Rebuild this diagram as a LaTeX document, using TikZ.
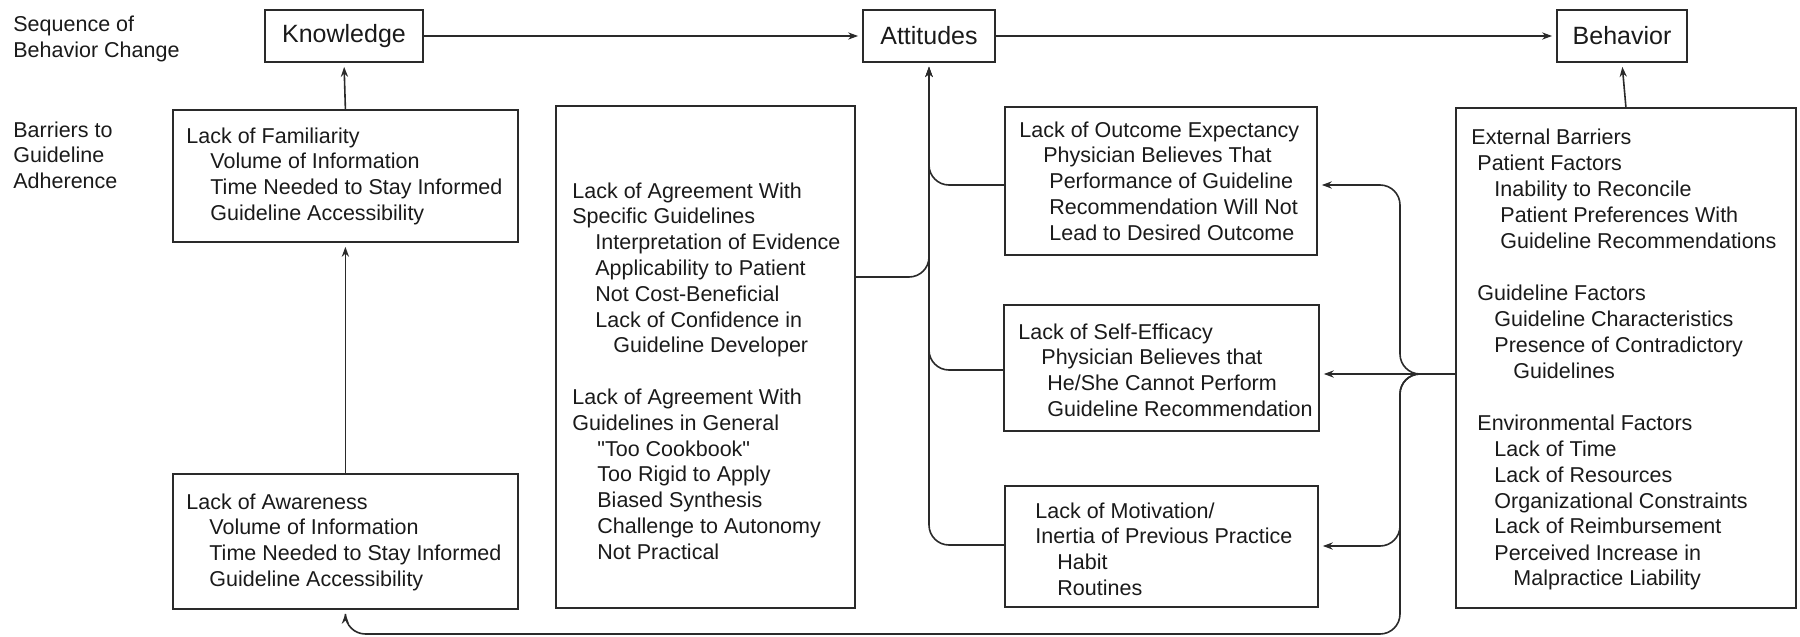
\documentclass[tikz,border=0pt]{standalone}
\usepackage{fontspec}
\setmainfont{Liberation Sans}[Ligatures=TeXOff]
\usetikzlibrary{arrows.meta}
\definecolor{linec}{HTML}{2A2A2A}
\definecolor{textc}{HTML}{1A1A1A}
\newcommand{\ind}[1]{\hspace*{#1pt}}
\newcommand{\lines}[1]{\begin{tabular}[t]{@{}l@{}}#1\end{tabular}}
\begin{document}
\begin{tikzpicture}[x=0.5pt,y=-0.5pt,
  font=\fontsize{10.75pt}{12.9pt}\selectfont,
  box/.style={draw=linec, line width=0.9pt, inner sep=0pt, anchor=north west},
  title/.style={draw=linec, line width=0.9pt, inner sep=0pt, minimum height=26pt, text=textc, font=\fontsize{12.5pt}{15pt}\selectfont},
  txt/.style={anchor=base west, inner sep=0pt, text=textc},
  arr/.style={draw=linec, line width=0.8pt, -{Stealth[length=5pt,width=3.6pt]}, shorten >=2pt},
  conn/.style={arr, rounded corners=10pt}]
\useasboundingbox (0,0) rectangle (1800,637);

% left labels
\node[txt] (seq) at (13,32) {\lines{Sequence of\\Behavior Change}};
\node[txt] (bar) at (13,137) {\lines{Barriers to\\Guideline\\Adherence}};

% sequence boxes
\node[title, minimum width=79pt] (know) at (344,36) {Knowledge};
\node[title, minimum width=66pt] (att) at (929,36) {Attitudes};
\node[title, minimum width=65pt] (beh) at (1622,36) {Behavior};

% barrier boxes
\node[box, minimum width=172.5pt, minimum height=66pt] (fam) at (172,109) {};
\node[box, minimum width=172.5pt, minimum height=67.5pt] (aw) at (172,473) {};
\node[box, minimum width=149.5pt, minimum height=251pt] (agr) at (555,105) {};
\node[box, minimum width=156pt, minimum height=74pt] (outc) at (1004,106) {};
\node[box, minimum width=157.5pt, minimum height=63pt] (se) at (1003,304) {};
\node[box, minimum width=156.5pt, minimum height=60.5pt] (mot) at (1004,485) {};
\node[box, minimum width=170pt, minimum height=250pt] (ext) at (1455,107) {};

% texts
\node[txt] (famt) at (186,143) {\lines{Lack of Familiarity\\
\ind{12}Volume of Information\\
\ind{12}Time Needed to Stay Informed\\
\ind{12}Guideline Accessibility}};
\node[txt] (awt) at (186,509) {\lines{Lack of Awareness\\
\ind{11.5}Volume of Information\\
\ind{11.5}Time Needed to Stay Informed\\
\ind{11.5}Guideline Accessibility}};
\node[txt] (agrt) at (572,198) {\lines{Lack of Agreement With\\
Specific Guidelines\\
\ind{11.5}Interpretation of Evidence\\
\ind{11.5}Applicability to Patient\\
\ind{11.5}Not Cost-Beneficial\\
\ind{11.5}Lack of Confidence in\\
\ind{20.5}Guideline Developer\\
\\
Lack of Agreement With\\
Guidelines in General\\
\ind{12.5}"Too Cookbook"\\
\ind{12.5}Too Rigid to Apply\\
\ind{12.5}Biased Synthesis\\
\ind{12.5}Challenge to Autonomy\\
\ind{12.5}Not Practical}};
\node[txt] (outct) at (1019,137) {\lines{Lack of Outcome Expectancy\\
\ind{12}Physician Believes That\\
\ind{15}Performance of Guideline\\
\ind{15}Recommendation Will Not\\
\ind{15}Lead to Desired Outcome}};
\node[txt] (set) at (1018,339) {\lines{Lack of Self-Efficacy\\
\ind{11.5}Physician Believes that\\
\ind{14.5}He/She Cannot Perform\\
\ind{14.5}Guideline Recommendation}};
\node[txt] (mott) at (1035,518) {\lines{Lack of Motivation/\\
Inertia of Previous Practice\\
\ind{11}Habit\\
\ind{11}Routines}};
\node[txt, font=\fontsize{10.75pt}{13pt}\selectfont] (extt) at (1471,144) {\lines{External Barriers\\
\ind{3}Patient Factors\\
\ind{11.5}Inability to Reconcile\\
\ind{14.5}Patient Preferences With\\
\ind{14.5}Guideline Recommendations\\
\\
\ind{3}Guideline Factors\\
\ind{11.5}Guideline Characteristics\\
\ind{11.5}Presence of Contradictory\\
\ind{21}Guidelines\\
\\
\ind{3}Environmental Factors\\
\ind{11.5}Lack of Time\\
\ind{11.5}Lack of Resources\\
\ind{11.5}Organizational Constraints\\
\ind{11.5}Lack of Reimbursement\\
\ind{11.5}Perceived Increase in\\
\ind{21}Malpractice Liability}};

% sequence arrows
\draw[arr] (know.east) -- (att.west);
\draw[arr] (att.east) -- (beh.west);
\draw[arr] (fam.north) -- (know.south);
\draw[arr] (aw.north) -- (fam.south);
\draw[arr] (ext.north) -- (beh.south);

% branches into Attitudes
\draw[conn] (outc.west |- 0,185) -| (att.south);
\draw[conn] (agr.east |- 0,277) -| (att.south);
\draw[conn] (se.west |- 0,370) -| (att.south);
\draw[conn] (mot.west |- 0,545) -| (att.south);

% branches from External Barriers
\coordinate (bx) at (1400,374);
\coordinate (bb) at (1400,634);
\draw[conn] (ext.west |- bx) -- (bx) |- (outc.east |- 0,185);
\draw[arr] (ext.west |- bx) -- (se.east |- bx);
\draw[conn] (ext.west |- bx) -- (bx) |- (mot.east |- 0,546);
\draw[conn] (ext.west |- bx) -- (bx) -- (bb) -| (aw.south);
\end{tikzpicture}
\end{document}
